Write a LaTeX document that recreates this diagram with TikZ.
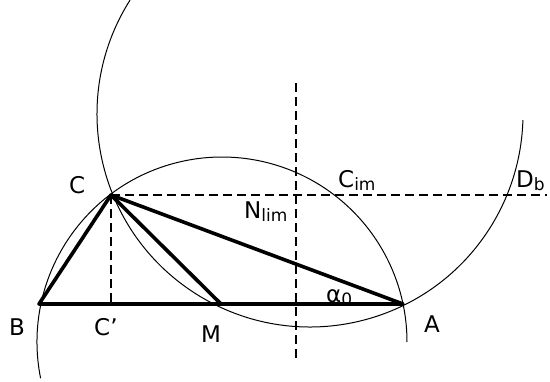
\documentclass[tikz,border=0pt]{standalone}
\usepackage{fontspec}
\setmainfont{DejaVu Sans}
\newcommand\lbsub[1]{\raisebox{-3.5pt}{\fontsize{17}{17}\selectfont #1}}
\tikzset{
  thickline/.style={line width=3.6pt, line cap=round, line join=round},
  thinarc/.style={line width=1pt},
  dashline/.style={line width=1.2pt, dash pattern=on 9pt off 5pt},
  lbl/.style={inner sep=0pt, anchor=base west, font=\fontsize{23}{23}\selectfont}
}
\begin{document}
\begin{tikzpicture}[x=1pt,y=1pt]
\useasboundingbox (0,0) rectangle (550,-381);
% points
\coordinate (B) at (39,-304);
\coordinate (A) at (403,-304);
\coordinate (C) at (111,-195);
\coordinate (M) at (221,-304);
\coordinate (Cp) at (111,-304);
\coordinate (Db) at (547,-195);
\coordinate (Vt) at (296,-83);
\coordinate (Vb) at (296,-359);
\coordinate (O1) at (222,-342);
\coordinate (O2) at (310,-114);
% arcs
\draw[thinarc] ([shift={(191.3:185)}]O1) arc[start angle=191.3, end angle=0, radius=185];
\draw[thinarc] ([shift={(147.65:213)}]O2) arc[start angle=147.65, end angle=358.38, radius=213];
% dashed lines
\draw[dashline] (C) -- (Db);
\draw[dashline] (C) -- (Cp);
\draw[dashline] (Vt) -- (Vb);
% triangle
\draw[thickline] (B) -- (A) -- (C) -- cycle;
\draw[thickline] (C) -- (M);
% labels
\node[lbl] (lC) at (69,-193) {C};
\node[lbl] (lB) at (9,-335) {B};
\node[lbl] (lCp) at (94,-335) {C’};
\node[lbl] (lM) at (201,-342) {M};
\node[lbl] (lA) at (424,-332) {A};
\node[lbl] (lCim) at (338,-187) {C\lbsub{im}};
\node[lbl] (lN) at (244,-218) {N\lbsub{lim}};
\node[lbl] (lD) at (516,-187) {D\lbsub{b}};
\node[lbl] (lal) at (326,-302) {α\lbsub{0}};
\end{tikzpicture}
\end{document}
